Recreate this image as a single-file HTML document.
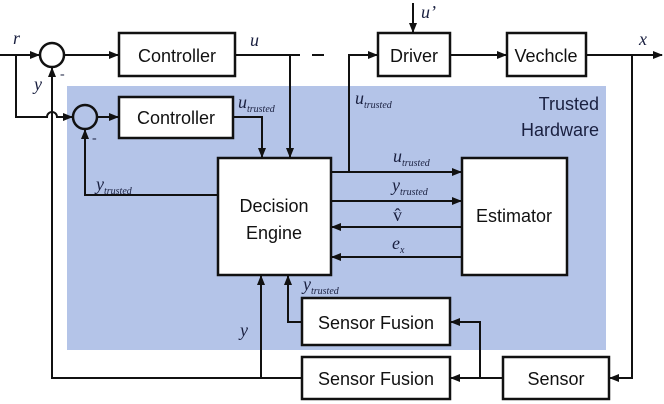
<!DOCTYPE html>
<html><head><meta charset="utf-8"><style>
html,body{margin:0;padding:0;background:#fff;}
svg{display:block;}
.b{font-family:"Liberation Sans","DejaVu Sans",sans-serif;font-size:18px;fill:#111;}
.i{font-family:"Liberation Serif",serif;font-style:italic;fill:#1a2040;}
</style></head><body>
<svg width="664" height="404" viewBox="0 0 664 404" xmlns="http://www.w3.org/2000/svg">
<defs><marker id="a" markerWidth="10" markerHeight="8" refX="9" refY="4" orient="auto" markerUnits="userSpaceOnUse"><path d="M0,0 L10,4 L0,8 z" fill="#111"/></marker></defs>
<rect x="67" y="86" width="539" height="264" fill="#b4c4e8"/>
<g stroke="#111" stroke-width="2" fill="none">
<line x1="0" y1="55" x2="39" y2="55" marker-end="url(#a)"/>
<path d="M16,55 V117 H47 a5,5 0 0 1 10,0 H72" marker-end="url(#a)"/>
<circle cx="52" cy="55" r="12" stroke-width="2.5"/>
<circle cx="85" cy="117" r="12" stroke-width="2.5"/>
<line x1="64" y1="55" x2="118" y2="55" marker-end="url(#a)"/>
<line x1="97" y1="117" x2="118" y2="117" marker-end="url(#a)"/>
<path d="M302,378 H52 V68" marker-end="url(#a)"/>
<line x1="261" y1="378" x2="261" y2="276" marker-end="url(#a)"/>
<path d="M218,195 H85 V130" marker-end="url(#a)"/>
<path d="M235,55 H290 V157" marker-end="url(#a)"/>
<line x1="290" y1="55" x2="300" y2="55"/>
<line x1="312" y1="55" x2="324" y2="55"/>
<path d="M233,117 H262 V157" marker-end="url(#a)"/>
<path d="M349,172 V55 H377" marker-end="url(#a)"/>
<line x1="413" y1="3" x2="413" y2="32" marker-end="url(#a)"/>
<line x1="450" y1="55" x2="506" y2="55" marker-end="url(#a)"/>
<line x1="586" y1="55" x2="662" y2="55" marker-end="url(#a)"/>
<path d="M632,55 V378 H610" marker-end="url(#a)"/>
<line x1="503" y1="378" x2="451" y2="378" marker-end="url(#a)"/>
<path d="M480,378 V322 H451" marker-end="url(#a)"/>
<path d="M302,322 H288 V276" marker-end="url(#a)"/>
<line x1="331" y1="172" x2="461" y2="172" marker-end="url(#a)"/>
<line x1="331" y1="201" x2="461" y2="201" marker-end="url(#a)"/>
<line x1="462" y1="227" x2="332" y2="227" marker-end="url(#a)"/>
<line x1="462" y1="257" x2="332" y2="257" marker-end="url(#a)"/>
</g>
<g stroke="#111" stroke-width="2.5" fill="#fff">
<rect x="119" y="33" width="116" height="43"/>
<rect x="119" y="97" width="114" height="41"/>
<rect x="378" y="33" width="72" height="43"/>
<rect x="507" y="33" width="79" height="43"/>
<rect x="218" y="158" width="113" height="117"/>
<rect x="462" y="158" width="105" height="117"/>
<rect x="302" y="298" width="148" height="47"/>
<rect x="302" y="357" width="148" height="42"/>
<rect x="503" y="357" width="106" height="42"/>
</g>
<g class="b">
<text x="177" y="62" text-anchor="middle">Controller</text>
<text x="176" y="124" text-anchor="middle">Controller</text>
<text x="414" y="62" text-anchor="middle">Driver</text>
<text x="546" y="62" text-anchor="middle">Vechcle</text>
<text x="274" y="212" text-anchor="middle">Decision</text>
<text x="274" y="239" text-anchor="middle">Engine</text>
<text x="514" y="222" text-anchor="middle">Estimator</text>
<text x="376" y="329" text-anchor="middle">Sensor Fusion</text>
<text x="376" y="385" text-anchor="middle">Sensor Fusion</text>
<text x="556" y="385" text-anchor="middle">Sensor</text>
<text x="599" y="110" text-anchor="end" fill="#1a2040">Trusted</text>
<text x="599" y="136" text-anchor="end" fill="#1a2040">Hardware</text>
</g>
<g class="i" font-size="18">
<text x="13" y="44">r</text>
<text x="34" y="90">y</text>
<text x="60" y="78" font-style="normal" font-size="14">-</text>
<text x="92" y="142" font-style="normal" font-size="14">-</text>
<text x="250" y="46">u</text>
<text x="421" y="18">u’</text>
<text x="639" y="45">x</text>
<text x="238" y="108">u<tspan font-size="10" dy="4">trusted</tspan></text>
<text x="355" y="104">u<tspan font-size="10" dy="4">trusted</tspan></text>
<text x="96" y="190">y<tspan font-size="10" dy="4">trusted</tspan></text>
<text x="393" y="162">u<tspan font-size="10" dy="4">trusted</tspan></text>
<text x="392" y="191">y<tspan font-size="10" dy="4">trusted</tspan></text>
<text x="393" y="221" font-style="normal">v̂</text>
<text x="392" y="249">e<tspan font-size="10" dy="4">x</tspan></text>
<text x="303" y="290">y<tspan font-size="10" dy="4">trusted</tspan></text>
<text x="240" y="336">y</text>
</g>
</svg>
</body></html>
